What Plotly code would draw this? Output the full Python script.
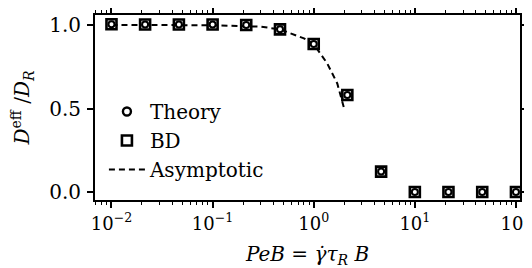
import plotly.graph_objects as go

pe = [0.01, 0.0215, 0.0464, 0.1, 0.215, 0.464, 1.0, 2.15, 4.64, 10, 21.5, 46.4, 100]
bd = [1.005, 1.003, 1.003, 1.003, 1.0, 0.974, 0.886, 0.581, 0.122, 0.0, 0.0, 0.0, 0.0]
theory = [1.005, 1.003, 1.003, 1.003, 1.0, 0.974, 0.886, 0.581, 0.122, 0.0, 0.0, 0.0, 0.0]
asym_x = [0.01, 0.03, 0.1, 0.3, 0.464, 0.8, 1.0, 1.36, 1.71, 2.0]
asym_y = [1.0, 1.0, 0.999, 0.99, 0.974, 0.92, 0.886, 0.77, 0.65, 0.5]
xtick_vals = [0.01, 0.1, 1, 10, 100]
xtick_text = ["10<sup>−2</sup>", "10<sup>−1</sup>", "10<sup>0</sup>", "10<sup>1</sup>", "10<sup>2</sup>"]
ytick_vals = [0.0, 0.5, 1.0]
ytick_text = ["0.0", "0.5", "1.0"]

FONT = "DejaVu Serif"

fig = go.Figure()
fig.add_trace(go.Scatter(
    x=pe, y=theory, mode="markers", name="Theory", legendgroup="a",
    marker=dict(symbol="circle", size=8, color="white", line=dict(color="black", width=2.4))))
fig.add_trace(go.Scatter(
    x=pe, y=bd, mode="markers", name="BD", legendgroup="b",
    marker=dict(symbol="square", size=10, color="white", line=dict(color="black", width=2.6))))
fig.add_trace(go.Scatter(
    x=asym_x, y=asym_y, mode="lines", name="Asymptotic", legendgroup="c",
    line=dict(color="black", width=2, dash="6px,4px")))
fig.add_trace(go.Scatter(
    x=pe, y=theory, mode="markers", showlegend=False,
    marker=dict(symbol="circle", size=6, color="white", line=dict(color="black", width=2))))

axis_common = dict(
    showline=True, linecolor="black", linewidth=1.8, mirror="allticks",
    ticks="outside", ticklen=6, tickwidth=1.5, tickcolor="black",
    showgrid=False, zeroline=False, automargin=False,
)

fig.update_xaxes(
    type="log", range=[-2.163, 2.04],
    tickvals=xtick_vals, ticktext=xtick_text,
    tickfont=dict(family=FONT, size=18, color="black"),
    ticklabeloverflow="allow", ticklabelstandoff=0,
    minor=dict(ticks="outside", ticklen=3.5, tickwidth=1, tickcolor="black", dtick="D1", showgrid=False),
    title=dict(text="<i>PeB</i> = <i>γ̇τ</i><sub><i>R</i></sub> <i>B</i>",
               font=dict(family=FONT, size=20, color="black"), standoff=16),
    **axis_common)
fig.update_yaxes(
    range=[-0.048, 1.06], tickvals=ytick_vals, ticktext=ytick_text,
    tickfont=dict(family=FONT, size=20, color="black"),
    ticklabelstandoff=2,
    title=dict(text="<i>D</i><sup>eff</sup> /<i>D</i><sub><i>R</i></sub>",
               font=dict(family=FONT, size=20, color="black"), standoff=14),
    **axis_common)

fig.update_layout(
    width=524, height=260,
    margin=dict(l=87, r=12, t=7, b=68, autoexpand=False),
    plot_bgcolor="white", paper_bgcolor="white",
    font=dict(family=FONT, color="black"),
    showlegend=True,
    legend=dict(x=0.021, y=0.584, xanchor="left", yanchor="top",
                bgcolor="rgba(0,0,0,0)", font=dict(family=FONT, size=20, color="black"),
                itemwidth=36, tracegroupgap=0),
)

fig.write_html("out.html")
